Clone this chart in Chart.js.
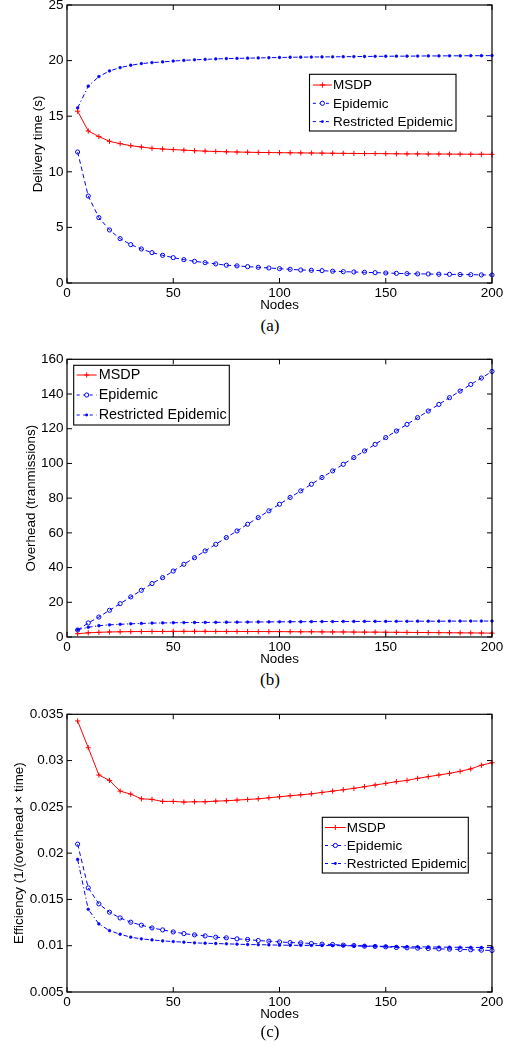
<!DOCTYPE html>
<html><head><meta charset="utf-8">
<script src="https://cdn.jsdelivr.net/npm/chart.js@4.4.0/dist/chart.umd.min.js"></script>
<style>
body{margin:0;background:#fff;}
#wrap{position:relative;width:509px;height:1046px;overflow:hidden;background:#fff;}
canvas{position:absolute;left:0;}
.cap{position:absolute;font-family:"Liberation Serif","Times New Roman",serif;font-size:17px;line-height:1;transform:translate(-50%,-50%);white-space:nowrap;color:#000;}
</style></head><body>
<div id="wrap">
<canvas id="cA" width="509" height="314" style="top:0px"></canvas>
<canvas id="cB" width="509" height="314" style="top:354px"></canvas>
<canvas id="cC" width="509" height="314" style="top:709px"></canvas>
<div class="cap" style="left:270px;top:325.4px">(a)</div>
<div class="cap" style="left:270px;top:679px">(b)</div>
<div class="cap" style="left:270px;top:1031.2px">(c)</div>
</div>
<script>
// ---------------- data ----------------
const nodes = [5,10,15,20,25,30,35,40,45,50,55,60,65,70,75,80,85,90,95,100,
  105,110,115,120,125,130,135,140,145,150,155,160,165,170,175,180,185,190,195,200];
const seriesLabels = ['MSDP', 'Epidemic', 'Restricted Epidemic'];
const xTicks = [0, 50, 100, 150, 200];

// (a) delivery time (s)
const delayMSDP = [15.45,13.67,13.17,12.74,12.53,12.35,12.23,12.11,12.05,12.0,11.95,11.9,11.86,11.83,11.8,11.78,11.76,11.74,11.73,11.72,
  11.71,11.7,11.69,11.68,11.67,11.66,11.65,11.64,11.64,11.63,11.62,11.61,11.61,11.6,11.6,11.59,11.59,11.58,11.58,11.57];
const delayEpidemic = [11.78,7.82,5.88,4.77,3.99,3.45,3.06,2.73,2.49,2.28,2.1,1.95,1.83,1.72,1.6,1.54,1.47,1.41,1.35,1.29,
  1.23,1.17,1.14,1.11,1.06,1.02,0.99,0.96,0.93,0.9,0.87,0.84,0.82,0.81,0.79,0.78,0.76,0.75,0.73,0.72];
const delayRestricted = [15.74,17.7,18.56,19.07,19.37,19.58,19.73,19.82,19.88,19.96,20.02,20.07,20.11,20.15,20.18,20.2,20.22,20.24,20.26,20.28,
  20.3,20.31,20.32,20.33,20.34,20.35,20.36,20.37,20.38,20.39,20.4,20.4,20.41,20.42,20.42,20.43,20.43,20.44,20.44,20.45];
const yTicksA = [0, 5, 10, 15, 20, 25];

// (b) overhead (transmissions)
const ovhMSDP = [1.9,2.4,2.7,2.9,3.0,3.1,3.15,3.2,3.2,3.25,3.25,3.25,3.25,3.2,3.2,3.2,3.15,3.15,3.1,3.1,
  3.05,3.0,3.0,2.95,2.9,2.9,2.85,2.8,2.8,2.75,2.7,2.65,2.6,2.55,2.5,2.45,2.4,2.35,2.3,2.2];
const ovhEpidemic = [4.0,8.1,11.5,15.4,19.2,23.1,26.9,30.8,34.2,38.0,41.9,45.7,49.6,53.4,57.3,61.1,65.0,68.8,72.7,76.5,
  80.4,84.2,88.0,91.9,95.7,99.5,103.4,107.2,111.0,114.9,118.7,122.5,126.4,130.2,134.0,137.9,141.7,145.5,149.2,153.0];
const ovhRestricted = [4.2,5.6,6.5,7.0,7.3,7.6,7.8,8.0,8.1,8.2,8.3,8.35,8.4,8.45,8.5,8.55,8.6,8.65,8.7,8.75,
  8.8,8.8,8.85,8.9,8.9,8.95,8.95,9.0,9.0,9.0,9.05,9.05,9.1,9.1,9.1,9.15,9.15,9.2,9.2,9.2];
const yTicksB = [0, 20, 40, 60, 80, 100, 120, 140, 160];

// (c) efficiency
const effMSDP = [0.03428,0.03139,0.02844,0.02786,0.0267,0.02638,0.02587,0.02581,0.02559,0.02559,0.02552,0.02555,0.02555,0.02562,0.02566,0.02573,0.0258,0.02587,0.02598,0.02609,
  0.0262,0.0263,0.02641,0.02656,0.0267,0.02685,0.027,0.02718,0.02736,0.02754,0.02772,0.02786,0.02808,0.02826,0.02844,0.02862,0.02884,0.0291,0.0295,0.02977];
const effEpidemic = [0.02097,0.01625,0.01452,0.01362,0.013,0.01254,0.01222,0.01192,0.01171,0.01149,0.01131,0.01117,0.01106,0.01092,0.01085,0.01074,0.01067,0.01056,0.01049,0.01041,
  0.01034,0.01031,0.01024,0.01017,0.01013,0.01006,0.01002,0.00995,0.00992,0.00988,0.00981,0.00977,0.00974,0.0097,0.00966,0.00963,0.0096,0.00956,0.00952,0.00948];
const effRestricted = [0.01932,0.01393,0.01235,0.01163,0.01124,0.01092,0.01074,0.01063,0.01052,0.01045,0.01038,0.01031,0.01027,0.01024,0.0102,0.01017,0.01013,0.01011,0.01009,0.01006,
  0.01005,0.01004,0.01003,0.01002,0.01001,0.01,0.00999,0.00997,0.00995,0.00993,0.00991,0.00989,0.00988,0.00987,0.00985,0.00984,0.00983,0.00982,0.00981,0.0098];
const yTicksC = [0.005, 0.01, 0.015, 0.02, 0.025, 0.03, 0.035];

// ---------------- styles ----------------
const FONT = '"Liberation Sans", Arial, Helvetica, sans-serif';
const RED = '#ff0000', BLUE = '#0000ff';
const styleList = [
  {borderColor: RED, borderWidth: 1, borderDash: [], pointStyle: 'cross', pointRadius: 2.6,
   pointBorderColor: RED, pointBackgroundColor: RED, pointBorderWidth: 1, marker: 'plus'},
  {borderColor: BLUE, borderWidth: 1, borderDash: [4.5, 3], pointStyle: 'circle', pointRadius: 2.1,
   pointBorderColor: BLUE, pointBackgroundColor: 'rgba(0,0,0,0)', pointBorderWidth: 1, marker: 'circle'},
  {borderColor: BLUE, borderWidth: 1, borderDash: [4.5, 2.5, 1.2, 2.5], pointStyle: 'circle', pointRadius: 1.4,
   pointBorderColor: BLUE, pointBackgroundColor: BLUE, pointBorderWidth: 0.5, marker: 'dot'}
];

function makeDatasets(valueLists) {
  return valueLists.map((vals, i) => Object.assign({
    label: seriesLabels[i],
    data: nodes.map((n, k) => ({x: n, y: vals[k]})),
    tension: 0, fill: false, clip: false
  }, styleList[i]));
}

// frame + inward ticks on all four sides
const frameTicks = {
  id: 'frameTicks',
  afterDatasetsDraw(chart) {
    const {ctx, chartArea: a, scales: {x, y}} = chart;
    ctx.save();
    ctx.strokeStyle = '#000';
    ctx.lineWidth = 1.2;
    ctx.setLineDash([]);
    ctx.strokeRect(a.left, a.top, a.right - a.left, a.bottom - a.top);
    ctx.lineWidth = 1;
    const L = 5;
    ctx.beginPath();
    x.ticks.forEach(t => {
      const px = x.getPixelForValue(t.value);
      ctx.moveTo(px, a.bottom); ctx.lineTo(px, a.bottom - L);
      ctx.moveTo(px, a.top); ctx.lineTo(px, a.top + L);
    });
    y.ticks.forEach(t => {
      const py = y.getPixelForValue(t.value);
      ctx.moveTo(a.left, py); ctx.lineTo(a.left + L, py);
      ctx.moveTo(a.right, py); ctx.lineTo(a.right - L, py);
    });
    ctx.stroke();
    ctx.restore();
  }
};

// MATLAB-like legend box drawn inside the axes
const matLegend = {
  id: 'matLegend',
  afterDraw(chart, args, o) {
    const ctx = chart.ctx;
    ctx.save();
    ctx.fillStyle = '#fff';
    ctx.fillRect(o.x, o.y, o.w, o.h);
    ctx.strokeStyle = '#000';
    ctx.lineWidth = 1.1;
    ctx.strokeRect(o.x, o.y, o.w, o.h);
    chart.data.datasets.forEach((ds, i) => {
      const cy = o.y + o.first + i * o.row;
      const x0 = o.x + o.s0, x1 = o.x + o.s1, xm = (x0 + x1) / 2;
      ctx.strokeStyle = ds.borderColor;
      ctx.lineWidth = ds.borderWidth;
      ctx.setLineDash(ds.marker === 'plus' ? [] : [3, 3.5]);
      ctx.beginPath(); ctx.moveTo(x0, cy); ctx.lineTo(x1, cy); ctx.stroke();
      ctx.setLineDash([]);
      if (ds.marker === 'plus') {
        const r = ds.pointRadius;
        ctx.beginPath();
        ctx.moveTo(xm - r, cy); ctx.lineTo(xm + r, cy);
        ctx.moveTo(xm, cy - r); ctx.lineTo(xm, cy + r);
        ctx.stroke();
      } else if (ds.marker === 'circle') {
        ctx.fillStyle = '#fff';
        ctx.beginPath(); ctx.arc(xm, cy, ds.pointRadius, 0, Math.PI * 2);
        ctx.fill(); ctx.stroke();
      } else {
        ctx.fillStyle = ds.borderColor;
        ctx.beginPath(); ctx.arc(xm, cy, ds.pointRadius, 0, Math.PI * 2); ctx.fill();
      }
      ctx.fillStyle = '#000';
      ctx.font = o.size + 'px ' + FONT;
      ctx.textBaseline = 'middle';
      ctx.textAlign = 'left';
      ctx.fillText(ds.label, o.x + o.tx, cy + 0.5);
    });
    ctx.restore();
  }
};

function makeChart(id, cfg) {
  const tickFont = {family: FONT, size: 13.5, lineHeight: 1.2};
  const titleFont = {family: FONT, size: 13.4, lineHeight: 1.2};
  return new Chart(document.getElementById(id), {
    type: 'line',
    data: {datasets: makeDatasets(cfg.values)},
    plugins: [frameTicks, matLegend],
    options: {
      responsive: false, animation: false, events: [],
      layout: {padding: {top: cfg.padTop, right: 17, bottom: 0, left: 0}},
      plugins: {legend: {display: false}, tooltip: {enabled: false}, matLegend: cfg.legend},
      scales: {
        x: {
          type: 'linear', min: 0, max: 200,
          afterBuildTicks: s => { s.ticks = xTicks.map(v => ({value: v})); },
          afterFit: s => { s.height = 31; s.paddingLeft = 0; s.paddingRight = 0; },
          grid: {display: false, drawTicks: false}, border: {display: false},
          ticks: {font: tickFont, color: '#000', padding: 1.7, maxRotation: 0, autoSkip: false,
                  callback: v => String(v)},
          title: {display: true, text: 'Nodes', font: titleFont, color: '#000', padding: {top: 0, bottom: 0.2}}
        },
        y: {
          type: 'linear', min: cfg.yTicks[0], max: cfg.yTicks[cfg.yTicks.length - 1],
          afterBuildTicks: s => { s.ticks = cfg.yTicks.map(v => ({value: v})); },
          afterFit: s => { s.width = 67; s.paddingTop = 0; s.paddingBottom = 0; },
          grid: {display: false, drawTicks: false}, border: {display: false},
          ticks: {font: tickFont, color: '#000', padding: 3.5, autoSkip: false,
                  callback: v => String(+Number(v).toFixed(6))},
          title: {display: true, text: cfg.yTitle, font: titleFont, color: '#000',
                  padding: {top: cfg.yTitlePad, bottom: 0}}
        }
      }
    }
  });
}

makeChart('cA', {
  values: [delayMSDP, delayEpidemic, delayRestricted],
  yTicks: yTicksA, padTop: 5,
  yTitle: 'Delivery time (s)', yTitlePad: 30.3,
  legend: {x: 309.5, y: 74.3, w: 146.5, h: 56.7, first: 10.7, row: 18.3, s0: 3.4, s1: 22.4, tx: 23.4, size: 13.5}
});
makeChart('cB', {
  values: [ovhMSDP, ovhEpidemic, ovhRestricted],
  yTicks: yTicksB, padTop: 5.3,
  yTitle: 'Overhead (tranmissions)', yTitlePad: 23.3,
  legend: {x: 73.7, y: 11.3, w: 155.6, h: 59.7, first: 9.7, row: 20, s0: 3, s1: 23, tx: 25, size: 14.4}
});
makeChart('cC', {
  values: [effMSDP, effEpidemic, effRestricted],
  yTicks: yTicksC, padTop: 5.3,
  yTitle: 'Efficiency (1/(overhead \u00d7 time)', yTitlePad: 11.6,
  legend: {x: 322.3, y: 108.3, w: 146, h: 55.7, first: 10.2, row: 18, s0: 2.7, s1: 23.4, tx: 24.4, size: 13.5}
});
</script>
</body></html>
